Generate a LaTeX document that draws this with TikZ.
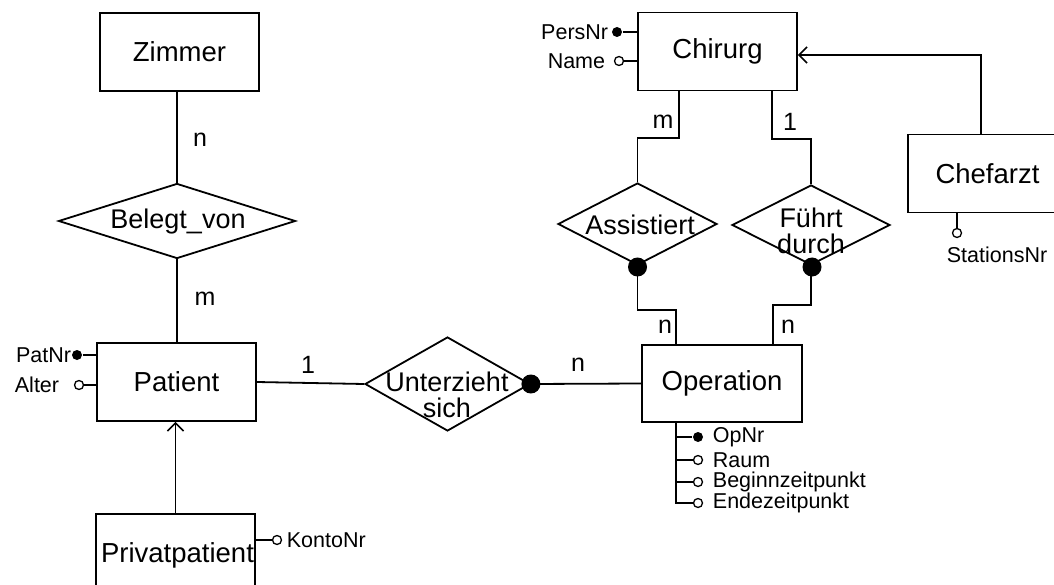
\documentclass[tikz,border=0pt]{standalone}
\usepackage{fontspec}
\setmainfont{Liberation Sans}
\usetikzlibrary{shapes.geometric,arrows.meta}
\begin{document}
\begin{tikzpicture}[x=1pt,y=-1pt, line width=1.8pt,
 ent/.style={draw, rectangle, minimum width=159pt, minimum height=78pt, inner sep=0pt, font=\fontsize{27.5}{30}\selectfont},
 rel/.style={draw, diamond, inner sep=0pt},
 reltext/.style={font=\fontsize{27}{25.5}\selectfont, align=center, inner sep=0pt},
 attr/.style={font=\fontsize{21.5}{24}\selectfont, inner sep=0pt},
 card/.style={font=\fontsize{25}{28}\selectfont, inner sep=0pt},
 keydot/.style={circle, fill, inner sep=0pt, minimum size=10pt},
 optcirc/.style={circle, draw, fill=white, inner sep=0pt, minimum size=9pt, line width=1.3pt},
 bigdot/.style={circle, fill, inner sep=0pt, minimum size=19pt},
 isa/.style={-{Straight Barb[length=8pt,width=16pt,line width=1.6pt]}}
]
\useasboundingbox (0,0) rectangle (1054,585);
\clip (0,0) rectangle (1054,585);

% entities and relationships
\node[ent] (zimmer) at (179.5,52) {Zimmer};
\node[rel, minimum width=237pt, minimum height=75pt] (belegt) at (177,221) {};
\node[reltext] (belegtT) at (178,222) {Belegt\_von};
\node[ent] (patient) at (176.5,382) {Patient};
\node[draw, rectangle, minimum width=159pt, minimum height=120pt, anchor=north, inner sep=0pt] (privbox) at (175.5,513) {};
\node[font=\fontsize{27.5}{30}\selectfont, inner sep=0pt] (privT) at (177.5,555) {Privatpatient};
\node[rel, minimum width=165pt, minimum height=94pt] (unter) at (447.5,384) {};
\node[reltext] (unterT) at (447,395) {Unterzieht\\sich};
\node[ent, minimum height=77pt, minimum width=160pt] (op) at (722,383.5) {Operation};
\node[ent] (chir) at (717.5,51.5) {Chirurg};
\node[rel, minimum width=159pt, minimum height=82pt] (assist) at (637.5,224) {};
\node[reltext] (assistT) at (640,225) {Assistiert};
\node[rel, minimum width=158pt, minimum height=80pt] (fuehrt) at (811,225) {};
\node[reltext] (fuehrtT) at (811,231) {Führt\\durch};
\node[ent] (chef) at (987.5,173.5) {Chefarzt};

% connectors
\draw (zimmer.south -| belegt.north) -- (belegt.north);
\draw (belegt.south) -- (belegt.south |- patient.north);
\draw (patient.east) -- (unter.west);
\draw (unter.east) -- (op.west);
\node[bigdot] (ud) at (unter.east) {};
\draw[isa] (privbox.north) -- (privbox.north |- patient.south);

\draw (679,0 |- chir.south) -- (679,138) -| (assist.north);
\draw (assist.south) -- (637.5,310) -| (676,0 |- op.north);
\node[bigdot] (ad) at (637.5,267) {};
\draw (772,0 |- chir.south) -- (772,139) -| (fuehrt.north);
\draw (fuehrt.south) -- (811,305) -| (773,0 |- op.north);
\node[bigdot] (fd) at (812,267) {};
\draw[isa] (981,0 |- chef.north) -- (981,55) -- (chir.east |- 0,55);

% cardinalities
\node[card] (c1) at (200,140) {n};
\node[card] (c2) at (205,299) {m};
\node[card] (c3) at (308,365) {1};
\node[card] (c4) at (578,365) {n};
\node[card] (c5) at (663,122) {m};
\node[card] (c6) at (790,122) {1};
\node[card] (c7) at (665,327) {n};
\node[card] (c8) at (788,327) {n};

% attributes Chirurg
\node[keydot] (pn) at (617,32) {};
\draw (pn) -- (pn -| chir.west);
\node[attr, anchor=east] (pnT) at (609,32) {PersNr};
\node[optcirc] (nm) at (619,61) {};
\draw (nm) -- (nm -| chir.west);
\node[attr, anchor=east] (nmT) at (606,61) {Name};

% attributes Patient
\node[keydot] (patnr) at (77,355) {};
\draw (patnr) -- (patnr -| patient.west);
\node[attr, anchor=east] (patnrT) at (72,355) {PatNr};
\node[optcirc] (alter) at (79,385) {};
\draw (alter) -- (alter -| patient.west);
\node[attr, anchor=east] (alterT) at (60,385) {Alter};

% attribute Privatpatient
\node[optcirc] (konto) at (277,540) {};
\draw (konto) -- (konto -| privbox.east);
\node[attr, anchor=west] (kontoT) at (286,540) {KontoNr};

% attribute Chefarzt
\node[optcirc] (stat) at (957,233) {};
\draw (stat) -- (stat |- chef.south);
\node[attr] (statT) at (997,255) {StationsNr};

% attributes Operation
\node[keydot] (opnr) at (698,437) {};
\node[optcirc] (raum) at (698,460) {};
\node[optcirc] (beg) at (698,482) {};
\node[optcirc] (ende) at (698,503) {};
\draw (676,0 |- op.south) -- (676,503) -- (ende);
\draw (676,437) -- (opnr);
\draw (676,460) -- (raum);
\draw (676,482) -- (beg);
\node[attr, anchor=west] (opnrT) at (712,437) {OpNr};
\node[attr, anchor=west] (raumT) at (712,460) {Raum};
\node[attr, anchor=west] (begT) at (712,482) {Beginnzeitpunkt};
\node[attr, anchor=west] (endeT) at (712,503) {Endezeitpunkt};
\end{tikzpicture}
\end{document}
